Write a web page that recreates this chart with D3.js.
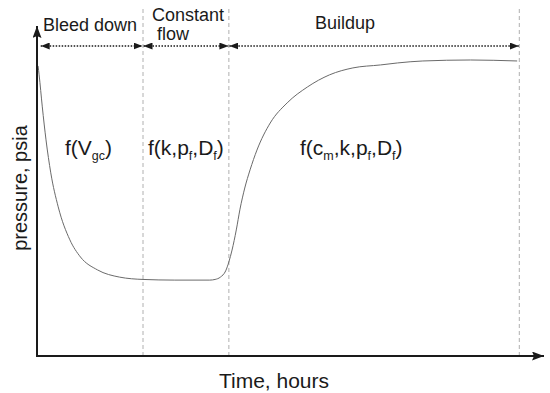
<!DOCTYPE html>
<html>
<head>
<meta charset="utf-8">
<script src="https://cdn.jsdelivr.net/npm/d3@7"></script>
<style>
  body { margin: 0; background: #fff; }
  svg { display: block; }
  text { font-family: "Liberation Sans", Arial, sans-serif; fill: #1a1a1a; }
</style>
</head>
<body>
<svg id="chart"></svg>
<script>
// pressure response (time in arbitrary hours, pressure in % of axis)
const timeHours = [0.1, 0.2, 0.5, 0.85, 1.3, 2.0, 3.1, 4.1, 5.7, 7.8, 10.0, 13.0, 16.3, 16.8, 17.3, 17.8,
    18.1, 18.4, 18.8, 19.15, 19.6, 20.1, 20.75, 22.0, 23.6, 25.5, 27.6, 29.8, 32.4, 34.0, 36.4, 40.9, 45.3];
const pressure = [87.9, 85.2, 75.5, 65.5, 55.5, 45.2, 35.2, 30.0, 26.1, 23.9, 23.2, 23.0, 23.0, 23.2, 23.9, 25.8,
    28.5, 32.1, 38.2, 44.5, 50.9, 56.4, 62.4, 70.6, 76.7, 81.5, 85.2, 87.3, 88.2, 88.8, 89.4, 89.7, 89.4];

// test phases
const phaseEdges = [0.3, 10.0, 18.1, 45.5];
const phaseNames = [["Bleed down"], ["Constant", "flow"], ["Buildup"]];
// function labels, each piece: [text, isSubscript]
const phaseFuncs = [
    [["f(V", 0], ["gc", 1], [")", 0]],
    [["f(k,p", 0], ["f", 1], [",D", 0], ["f", 1], [")", 0]],
    [["f(c", 0], ["m", 1], [",k,p", 0], ["f", 1], [",D", 0], ["f", 1], [")", 0]]
];

const xTitle = "Time, hours";
const yTitle = "pressure, psia";

const width = 550, height = 393;
const mLeft = 37, mRight = 544, mTop = 26, mBottom = 356;

const svg = d3.select("#chart").attr("width", width).attr("height", height);

const x = d3.scaleLinear().domain([0, 47.83]).range([mLeft, mRight]);
const y = d3.scaleLinear().domain([0, 100]).range([mBottom, mTop]);

// markers
const defs = svg.append("defs");
defs.append("marker").attr("id", "axisHead")
    .attr("viewBox", "0 0 12 9").attr("refX", 12).attr("refY", 4.5)
    .attr("markerWidth", 12).attr("markerHeight", 9)
    .attr("markerUnits", "userSpaceOnUse").attr("orient", "auto")
    .append("path").attr("d", "M0,0 L12,4.5 L0,9 L2,4.5 Z").attr("fill", "#1a1a1a");
defs.append("marker").attr("id", "dotHead")
    .attr("viewBox", "0 0 9 7").attr("refX", 9).attr("refY", 3.5)
    .attr("markerWidth", 9).attr("markerHeight", 7)
    .attr("markerUnits", "userSpaceOnUse").attr("orient", "auto-start-reverse")
    .append("path").attr("d", "M0,0 L9,3.5 L0,7 Z").attr("fill", "#1a1a1a");

// dashed phase boundaries
svg.selectAll(".edge")
    .data(phaseEdges.slice(1))
    .join("line")
    .attr("class", "edge")
    .attr("x1", d => x(d)).attr("x2", d => x(d))
    .attr("y1", 9).attr("y2", mBottom - 1)
    .attr("stroke", "#b0b0b0").attr("stroke-width", 1)
    .attr("stroke-dasharray", "4,3");

// dotted double arrows per phase
const arrowY = 46;
svg.selectAll(".span")
    .data(d3.pairs(phaseEdges))
    .join("line")
    .attr("class", "span")
    .attr("x1", d => x(d[0]) + 0.5).attr("x2", d => x(d[1]) - 0.5)
    .attr("y1", arrowY).attr("y2", arrowY)
    .attr("stroke", "#1a1a1a").attr("stroke-width", 1.5)
    .attr("stroke-dasharray", "1.5,1.5")
    .attr("marker-start", "url(#dotHead)")
    .attr("marker-end", "url(#dotHead)");

// phase names
const namePos = [[43, [31]], [152, [21, 40]], [315, [29]]];
phaseNames.forEach((lines, i) => {
    const [tx, ys] = namePos[i];
    lines.forEach((s, j) => {
        svg.append("text")
            .attr("x", j === 1 ? tx + 5 : tx).attr("y", ys[j])
            .attr("font-size", 18)
            .text(s);
    });
});

// function labels
const funcX = [65, 148, 300];
phaseFuncs.forEach((parts, i) => {
    const t = svg.append("text")
        .attr("x", funcX[i]).attr("y", 155)
        .attr("font-size", 21);
    let wasSub = false;
    parts.forEach(([s, sub]) => {
        const ts = t.append("tspan").text(s);
        if (sub) { ts.attr("font-size", 12.5).attr("dy", wasSub ? 0 : 5); }
        else if (wasSub) { ts.attr("dy", -5); }
        wasSub = !!sub;
    });
});

// pressure curve
const line = d3.line()
    .x((d, i) => x(timeHours[i]))
    .y(d => y(d))
    .curve(d3.curveMonotoneX);
svg.append("path")
    .datum(pressure)
    .attr("d", line)
    .attr("fill", "none")
    .attr("stroke", "#6a6a6a")
    .attr("stroke-width", 1);

// axes
svg.append("line")
    .attr("x1", x(0)).attr("y1", y(0)).attr("x2", x(0)).attr("y2", y(100))
    .attr("stroke", "#1a1a1a").attr("stroke-width", 2)
    .attr("marker-end", "url(#axisHead)");
svg.append("line")
    .attr("x1", x(0) - 1).attr("y1", y(0)).attr("x2", x(47.83)).attr("y2", y(0))
    .attr("stroke", "#1a1a1a").attr("stroke-width", 2)
    .attr("marker-end", "url(#axisHead)");

// axis titles
svg.append("text")
    .attr("x", 274).attr("y", 388)
    .attr("text-anchor", "middle").attr("font-size", 21)
    .text(xTitle);
svg.append("text")
    .attr("transform", "translate(27,188) rotate(-90)")
    .attr("text-anchor", "middle").attr("font-size", 20)
    .text(yTitle);
</script>
</body>
</html>
